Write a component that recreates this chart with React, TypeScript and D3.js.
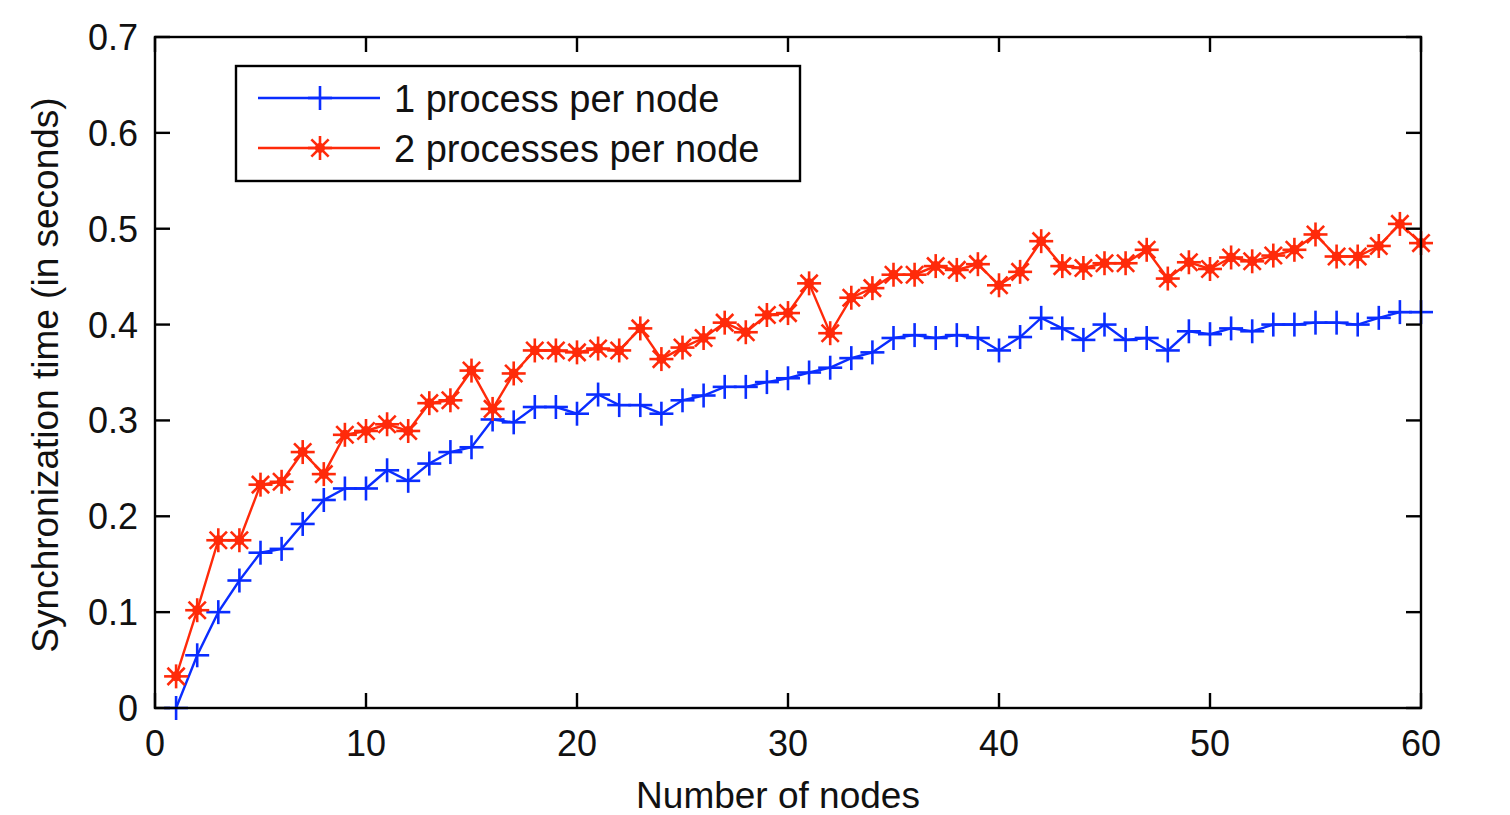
import React from "react";
import * as d3 from "d3";

const nodes: number[] = Array.from({ length: 60 }, (_, i) => i + 1);

const oneProcess: number[] = [
  0.0, 0.055, 0.1, 0.133, 0.162, 0.166, 0.192, 0.217, 0.229, 0.229,
  0.248, 0.237, 0.255, 0.267, 0.272, 0.301, 0.298, 0.314, 0.314, 0.307,
  0.327, 0.316, 0.316, 0.307, 0.321, 0.326, 0.335, 0.335, 0.34, 0.344,
  0.35, 0.355, 0.365, 0.371, 0.386, 0.389, 0.386, 0.389, 0.386, 0.373,
  0.387, 0.407, 0.396, 0.384, 0.4, 0.384, 0.386, 0.373, 0.393, 0.39,
  0.396, 0.393, 0.4, 0.4, 0.402, 0.402, 0.4, 0.407, 0.413, 0.413,
];

const twoProcesses: number[] = [
  0.033, 0.102, 0.175, 0.175, 0.233, 0.236, 0.267, 0.244, 0.285, 0.289,
  0.296, 0.289, 0.318, 0.321, 0.352, 0.312, 0.349, 0.373, 0.373, 0.371,
  0.375, 0.373, 0.396, 0.364, 0.376, 0.386, 0.402, 0.392, 0.41, 0.412,
  0.443, 0.391, 0.428, 0.438, 0.452, 0.452, 0.461, 0.457, 0.463, 0.441,
  0.455, 0.487, 0.461, 0.459, 0.464, 0.464, 0.478, 0.448, 0.465, 0.458,
  0.47, 0.466, 0.472, 0.478, 0.494, 0.471, 0.471, 0.482, 0.505, 0.485,
];

const xTicks: number[] = [0, 10, 20, 30, 40, 50, 60];
const yTicks: number[] = [0, 0.1, 0.2, 0.3, 0.4, 0.5, 0.6, 0.7];
const seriesNames: string[] = ["1 process per node", "2 processes per node"];

const BLUE = "#0a2dff";
const RED = "#ff2a0a";
const FONT = "'Liberation Sans', Arial, sans-serif";
const TEXT = "#111";

const left = 155, right = 1421, top = 37, bottom = 708;

function Plus({ x, y, color, s = 12 }: { x: number; y: number; color: string; s?: number }) {
  return (
    <g stroke={color} strokeWidth={2.6}>
      <line x1={x - s} x2={x + s} y1={y} y2={y} />
      <line x1={x} x2={x} y1={y - s} y2={y + s} />
    </g>
  );
}

function Star({ x, y, color, s = 12 }: { x: number; y: number; color: string; s?: number }) {
  const d = s * 0.72;
  return (
    <g stroke={color} strokeWidth={2.6}>
      <line x1={x - s} x2={x + s} y1={y} y2={y} />
      <line x1={x} x2={x} y1={y - s} y2={y + s} />
      <line x1={x - d} x2={x + d} y1={y - d} y2={y + d} />
      <line x1={x - d} x2={x + d} y1={y + d} y2={y - d} />
      <circle cx={x} cy={y} r={5} fill={color} stroke="none" />
    </g>
  );
}

export default function App() {
  const x = d3.scaleLinear().domain([0, 60]).range([left, right]);
  const y = d3.scaleLinear().domain([0, 0.7]).range([bottom, top]);
  const line = d3
    .line<number>()
    .x((_, i) => x(nodes[i]))
    .y((d) => y(d));
  const tl = 15;

  return (
    <svg
      width={1510}
      height={815}
      style={{ position: "absolute", left: 0, top: 0, background: "#fff" }}
      fontFamily={FONT}
    >
      <rect x={0} y={0} width={1510} height={815} fill="#fff" />
      {/* series */}
      <path d={line(oneProcess) || ""} fill="none" stroke={BLUE} strokeWidth={2.4} />
      <path d={line(twoProcesses) || ""} fill="none" stroke={RED} strokeWidth={2.4} />
      {oneProcess.map((v, i) => (
        <Plus key={"b" + i} x={x(nodes[i])} y={y(v)} color={BLUE} />
      ))}
      {twoProcesses.map((v, i) => (
        <Star key={"r" + i} x={x(nodes[i])} y={y(v)} color={RED} />
      ))}
      {/* axes box */}
      <rect x={left} y={top} width={right - left} height={bottom - top} fill="none" stroke="#000" strokeWidth={2.4} />
      {xTicks.map((t) => (
        <g key={"xt" + t}>
          <line x1={x(t)} x2={x(t)} y1={bottom} y2={bottom - tl} stroke="#000" strokeWidth={2.4} />
          <line x1={x(t)} x2={x(t)} y1={top} y2={top + tl} stroke="#000" strokeWidth={2.4} />
          <text x={x(t)} y={756} textAnchor="middle" fontSize={36} fill={TEXT}>
            {t}
          </text>
        </g>
      ))}
      {yTicks.map((t) => (
        <g key={"yt" + t}>
          <line x1={left} x2={left + tl} y1={y(t)} y2={y(t)} stroke="#000" strokeWidth={2.4} />
          <line x1={right} x2={right - tl} y1={y(t)} y2={y(t)} stroke="#000" strokeWidth={2.4} />
          <text x={138} y={y(t) + 13} textAnchor="end" fontSize={36} fill={TEXT}>
            {t === 0 ? "0" : t.toFixed(1)}
          </text>
        </g>
      ))}
      {/* axis labels */}
      <text x={778} y={808} textAnchor="middle" fontSize={37} fill={TEXT}>
        Number of nodes
      </text>
      <text
        transform={`translate(58, 375) rotate(-90)`}
        textAnchor="middle"
        fontSize={37}
        fill={TEXT}
      >
        Synchronization time (in seconds)
      </text>
      {/* legend */}
      <rect x={236} y={66} width={564} height={115} fill="#fff" stroke="#000" strokeWidth={2.4} />
      <line x1={258} x2={380} y1={98} y2={98} stroke={BLUE} strokeWidth={2.4} />
      <Plus x={320} y={98} color={BLUE} />
      <text x={394} y={112} fontSize={38} fill={TEXT}>
        {seriesNames[0]}
      </text>
      <line x1={258} x2={380} y1={148} y2={148} stroke={RED} strokeWidth={2.4} />
      <Star x={320} y={148} color={RED} />
      <text x={394} y={162} fontSize={38} fill={TEXT}>
        {seriesNames[1]}
      </text>
    </svg>
  );
}
